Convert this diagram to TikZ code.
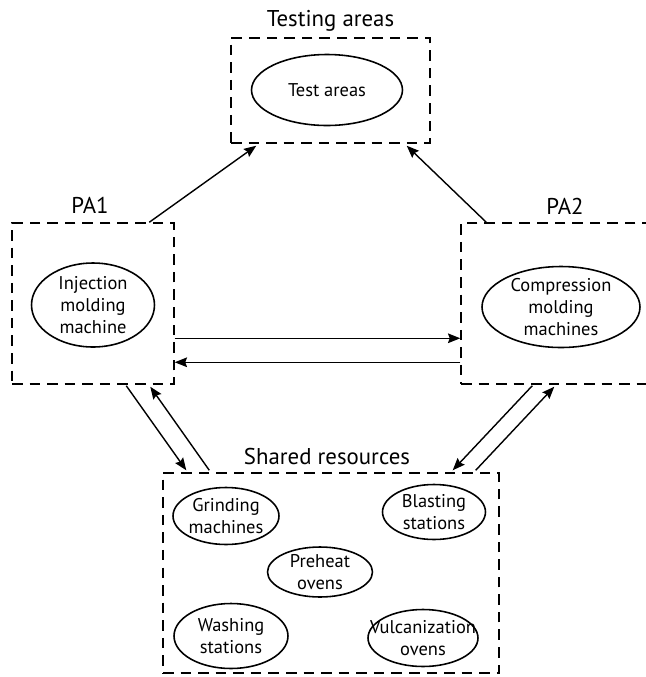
\documentclass[tikz,border=0pt]{standalone}
\usepackage{fontspec}
\setmainfont{PT Sans}
\usetikzlibrary{shapes.geometric,arrows.meta,calc}
\tikzset{
  areabox/.style={draw,dash pattern=on 6pt off 4pt,line width=0.85pt,inner sep=0pt},
  machine/.style={draw,ellipse,line width=0.9pt,inner xsep=-12pt,inner ysep=-6pt,align=center,font=\fontsize{10.5}{12.5}\selectfont},
  areaname/.style={font=\fontsize{13}{15}\selectfont,inner sep=0pt,anchor=base},
  flow/.style={-{Stealth[length=7pt,width=5.5pt,inset=1pt]},line width=0.8pt}
}
\begin{document}
\begin{tikzpicture}[x=0.02cm,y=-0.02cm]
\useasboundingbox (0,0) rectangle (646,677);
\clip (0,0) rectangle (646,677);
\node[areabox,minimum width=3.98cm,minimum height=2.1cm] (test) at (330.5,90.5) {};
\node[areabox,minimum width=3.24cm,minimum height=3.22cm] (pa1) at (93,303.5) {};
\node[areabox,minimum width=4cm,minimum height=3.22cm] (pa2) at (561,303.5) {};
\node[areabox,minimum width=6.72cm,minimum height=4cm] (shared) at (331,573) {};
\node[areaname] (testname) at ($(test.north)+(0,-11)$) {Testing areas};
\node[areaname] (pa1name) at ($(pa1.north)+(-3,-9)$) {PA1};
\node[areaname] (pa2name) at ($(pa2.north)+(4,-8)$) {PA2};
\node[areaname] (sharedname) at ($(shared.north)+(-4,-8)$) {Shared resources};
\node[machine,minimum width=3.02cm,minimum height=1.42cm] (testarea) at (327,90) {Test areas};
\node[machine,minimum width=2.46cm,minimum height=1.68cm] (inject) at (93,305) {Injection\\molding\\machine};
\node[machine,minimum width=3.16cm,minimum height=1.62cm] (compress) at (561,307) {Compression\\molding\\machines};
\node[machine,minimum width=2.12cm,minimum height=1.14cm] (grind) at (226,516) {Grinding\\machines};
\node[machine,minimum width=2.06cm,minimum height=1.1cm] (blast) at (434,512) {Blasting\\stations};
\node[machine,minimum width=2.1cm,minimum height=1cm] (preheat) at (320,572) {Preheat\\ovens};
\node[machine,minimum width=2.28cm,minimum height=1.3cm] (wash) at (231,636) {Washing\\stations};
\node[machine,minimum width=2.2cm,minimum height=1.14cm] (vulc) at (423,638) {Vulcanization\\ovens};
\draw[flow] ($(pa1.north west)+(138,0)$) -- ($(test.south west)+(26,2)$);
\draw[flow] ($(pa2.north west)+(26,0)$) -- ($(test.south east)+(-24,2)$);
\draw[flow] ($(pa1.south west)+(115,1)$) -- ($(shared.north west)+(24,-2)$);
\draw[flow] ($(shared.north west)+(47,-2)$) -- ($(pa1.south west)+(139,2)$);
\draw[flow] ($(pa2.south west)+(72,1)$) -- ($(shared.north east)+(-47,-2)$);
\draw[flow] ($(shared.north east)+(-24,-2)$) -- ($(pa2.south west)+(94,2)$);
\draw[flow] ($(pa1.north east)+(0,116)$) -- ($(pa2.north west)+(0,116)$);
\draw[flow] ($(pa2.north west)+(0,140)$) -- ($(pa1.north east)+(0,140)$);
\end{tikzpicture}
\end{document}
